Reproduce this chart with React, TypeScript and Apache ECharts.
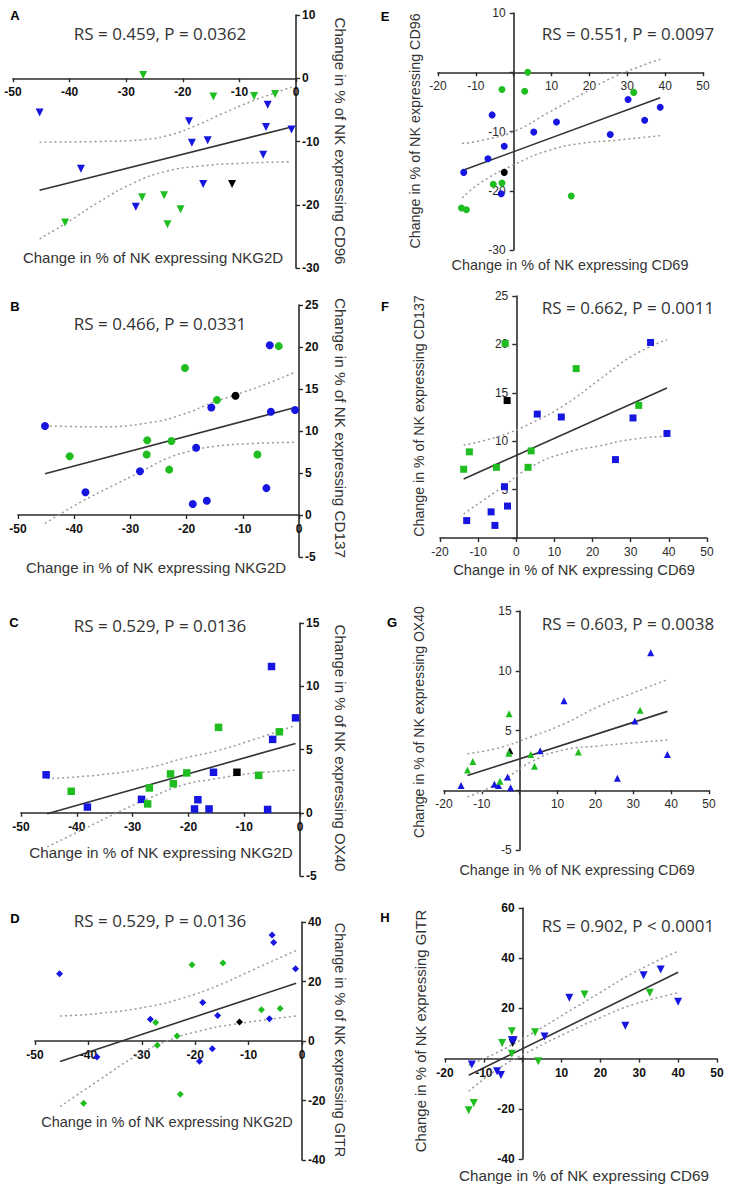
import React, { useEffect, useRef } from "react";
import * as echarts from "echarts";

// ---------- Panel A: NKG2D vs CD96 ----------
const aBlue = [[-45.3, -5.4], [-38.0, -14.3], [-28.3, -20.3], [-18.9, -6.8], [-18.4, -10.2], [-16.4, -16.7], [-15.6, -9.8], [-5.8, -12.1], [-5.3, -7.7], [-5.0, -4.2], [-0.8, -8.1]];
const aGreen = [[-40.8, -22.8], [-27.0, 0.5], [-27.2, -18.8], [-23.3, -18.5], [-22.7, -23.1], [-20.4, -20.7], [-14.6, -2.9], [-7.4, -2.8], [-3.7, -2.5]];
const aBlack = [[-11.3, -16.7]];
const aFit = [[-45.3, -17.7], [-0.8, -7.7]];
const aUpper = [[-45.3, -10.1], [-35, -10.0], [-27, -9.7], [-22, -8.9], [-18, -7.6], [-13, -5.6], [-8, -3.7], [-4, -2.4], [-0.8, -1.4]];
const aLower = [[-45.3, -25.4], [-40.6, -22.9], [-34.7, -19.5], [-28.8, -16.6], [-22.9, -14.7], [-17, -13.9], [-11.1, -13.5], [-0.8, -13.2]];

// ---------- Panel B: NKG2D vs CD137 ----------
const bBlue = [[-45.2, 10.6], [-38.0, 2.7], [-28.3, 5.2], [-18.9, 1.3], [-18.3, 8.0], [-16.4, 1.7], [-15.6, 12.8], [-5.8, 3.2], [-5.2, 20.2], [-5.0, 12.3], [-0.7, 12.5]];
const bGreen = [[-40.8, 7.0], [-27.1, 7.2], [-27.0, 8.9], [-23.1, 5.4], [-22.7, 8.8], [-20.3, 17.5], [-14.6, 13.7], [-7.4, 7.2], [-3.6, 20.1]];
const bBlack = [[-11.3, 14.2]];
const bFit = [[-45.2, 4.9], [-0.7, 12.8]];
const bUpper = [[-45.2, 10.6], [-35.4, 10.5], [-26.5, 11.0], [-20.6, 12.0], [-15.3, 13.4], [-11.7, 14.2], [-5.8, 15.6], [-0.7, 17.0]];
const bLower = [[-45.2, -1.0], [-38.4, 1.7], [-33.7, 3.3], [-27.7, 5.3], [-23.6, 6.7], [-18.8, 7.7], [-14.7, 8.2], [-8.7, 8.5], [-0.7, 8.65]];

// ---------- Panel C: NKG2D vs OX40 ----------
const cBlue = [[-45.5, 3.0], [-38.1, 0.45], [-28.4, 1.06], [-18.3, 1.03], [-18.9, 0.3], [-16.3, 0.3], [-15.5, 3.2], [-5.8, 0.26], [-5.1, 11.56], [-4.9, 5.8], [-0.8, 7.5]];
const cGreen = [[-41.0, 1.7], [-27.0, 1.96], [-27.3, 0.7], [-23.2, 3.07], [-22.7, 2.3], [-20.3, 3.15], [-14.6, 6.75], [-7.4, 2.96], [-3.7, 6.4]];
const cBlack = [[-11.3, 3.2]];
const cFit = [[-45.3, -0.08], [-0.8, 5.48]];
const cUpper = [[-45.3, 2.7], [-35.8, 3.0], [-26.8, 3.6], [-20.9, 4.3], [-14.9, 4.9], [-8.9, 5.7], [-0.8, 6.9]];
const cLower = [[-45.3, -2.7], [-38.8, -1.3], [-32.8, 0], [-26.8, 1.2], [-20.9, 2.2], [-14.9, 2.7], [-8.9, 3.1], [-0.8, 3.36]];

// ---------- Panel D: NKG2D vs GITR ----------
const dBlue = [[-45.4, 22.6], [-38.4, -5.4], [-28.4, 7.3], [-18.6, 12.9], [-19.2, -6.8], [-16.8, -2.6], [-15.8, 8.6], [-6.1, 7.5], [-5.6, 35.6], [-5.3, 33.1], [-1.2, 24.3]];
const dGreen = [[-40.9, -20.9], [-27.4, 6.2], [-27.1, -1.45], [-23.4, 1.7], [-22.8, -17.9], [-20.6, 25.6], [-14.8, 26.2], [-7.6, 10.5], [-4.1, 10.9]];
const dBlack = [[-11.7, 6.4]];
const dFit = [[-45.3, -6.9], [-1.1, 19.4]];
const dUpper = [[-45.3, 8.4], [-37.8, 9.3], [-28.4, 11.7], [-22.2, 14.5], [-15.9, 18.5], [-9.7, 23.5], [-1.1, 30.4]];
const dLower = [[-45.3, -22.0], [-37.8, -12.9], [-31.6, -5.6], [-25.3, 0], [-19.1, 3.4], [-12.8, 5.6], [-1.1, 8.4]];

// ---------- Panel E: CD69 vs CD96 ----------
const eBlue = [[30.2, -4.6], [38.7, -5.9], [-5.7, -7.2], [34.6, -8.1], [11.3, -8.4], [5.3, -10.1], [25.5, -10.5], [-2.5, -12.5], [-6.8, -14.6], [-13.2, -16.9], [-3.3, -20.5]];
const eGreen = [[3.7, 0.0], [-3.1, -2.9], [2.9, -3.2], [31.7, -3.4], [-5.4, -18.9], [-3.1, -18.7], [15.2, -20.9], [-13.8, -22.9], [-12.5, -23.2]];
const eBlack = [[-2.5, -16.9]];
const eFit = [[-13.2, -16.5], [38.7, -4.3]];
const eUpper = [[-13.6, -12.0], [-8.4, -11.5], [0.4, -9.9], [9.2, -6.8], [18, -3.7], [26.8, -0.7], [38.7, 2.2]];
const eLower = [[-13.6, -21.2], [-8.4, -18.5], [0.4, -15.5], [9.2, -13.2], [18, -12.0], [26.8, -11.5], [38.7, -10.7]];

// ---------- Panel F: CD69 vs CD137 ----------
const fBlue = [[35.2, 20.2], [5.5, 12.8], [11.8, 12.5], [30.6, 12.4], [39.5, 10.8], [26.0, 8.1], [-3.1, 5.3], [-2.3, 3.3], [-6.6, 2.7], [-13.0, 1.8], [-5.6, 1.3]];
const fGreen = [[-2.9, 20.1], [15.7, 17.5], [32.1, 13.7], [-12.3, 8.9], [3.9, 9.0], [-13.8, 7.1], [-5.2, 7.3], [3.1, 7.3]];
const fBlack = [[-2.4, 14.2]];
const fFit = [[-13.8, 6.1], [39.5, 15.5]];
const fUpper = [[-13.8, 9.6], [-4.6, 10.5], [4.1, 11.9], [12.9, 13.8], [21.6, 16.3], [30.4, 18.8], [39.5, 20.5]];
const fLower = [[-13.8, 2.5], [-4.6, 5.0], [4.1, 7.4], [12.9, 8.8], [21.6, 9.5], [30.4, 10.2], [39.5, 10.5]];

// ---------- Panel G: CD69 vs OX40 ----------
const gBlue = [[34.6, 11.5], [11.7, 7.5], [30.4, 5.8], [5.4, 3.3], [39.0, 3.0], [-3.2, 1.1], [25.8, 1.0], [-15.5, 0.4], [-6.7, 0.5], [-5.6, 0.4], [-2.4, 0.2]];
const gGreen = [[31.8, 6.7], [-2.8, 6.4], [-2.9, 3.1], [2.9, 3.0], [15.5, 3.2], [-12.4, 2.4], [-13.8, 1.7], [3.9, 2.0], [-5.2, 0.75]];
const gBlack = [[-2.6, 3.3]];
const gFit = [[-13.8, 1.23], [39.0, 6.6]];
const gUpper = [[-13.8, 3.06], [-5.6, 3.54], [3.2, 4.5], [12, 5.6], [20.8, 7.0], [29.6, 8.1], [39.0, 9.25]];
const gLower = [[-13.8, -0.56], [-5.6, 0.6], [3.2, 2.4], [12, 3.4], [20.8, 3.7], [29.6, 3.96], [39.0, 4.2]];

// ---------- Panel H: CD69 vs GITR ----------
const hBlue = [[35.5, 35.5], [31.1, 33.2], [12.0, 24.2], [40.0, 22.6], [26.4, 13.1], [5.6, 8.8], [-2.8, 7.3], [-2.3, 7.3], [-13.1, -2.4], [-6.6, -5.0], [-5.6, -6.5]];
const hGreen = [[32.7, 26.2], [15.9, 25.5], [-2.8, 10.9], [3.2, 10.5], [-5.3, 6.2], [-2.8, 1.9], [4.0, -1.1], [-12.6, -17.7], [-13.9, -20.6]];
const hBlack = [[-2.6, 6.2]];
const hFit = [[-13.9, -6.6], [40.0, 34.4]];
const hUpper = [[-13.9, -2.7], [-6, 2.9], [2.6, 10.2], [11.2, 18.2], [19.8, 26.2], [28.4, 34.1], [40.0, 42.8]];
const hLower = [[-13.9, -13.0], [-6, -3.7], [2.6, 3.6], [11.2, 10.2], [19.8, 16.2], [28.4, 21.5], [40.0, 26.2]];

// ---------- Texts ----------
const letters = ["A", "B", "C", "D", "E", "F", "G", "H"];
const stats = [
  "RS = 0.459, P = 0.0362",
  "RS = 0.466, P = 0.0331",
  "RS = 0.529, P = 0.0136",
  "RS = 0.529, P = 0.0136",
  "RS = 0.551, P = 0.0097",
  "RS = 0.662, P = 0.0011",
  "RS = 0.603, P = 0.0038",
  "RS = 0.902, P < 0.0001",
];
const xNames = [
  "Change in % of NK expressing NKG2D",
  "Change in % of NK expressing NKG2D",
  "Change in % of NK expressing NKG2D",
  "Change in % of NK expressing NKG2D",
  "Change in % of NK expressing CD69",
  "Change in % of NK expressing CD69",
  "Change in % of NK expressing CD69",
  "Change in % of NK expressing CD69",
];
const yNames = [
  "Change in % of NK expressing CD96",
  "Change in % of NK expressing CD137",
  "Change in % of NK expressing OX40",
  "Change in % of NK expressing GITR",
  "Change in % of NK expressing CD96",
  "Change in % of NK expressing CD137",
  "Change in % of NK expressing OX40",
  "Change in % of NK expressing GITR",
];

// axis scales [min, max, interval]
const xScales = [
  [-50, 0, 10], [-50, 0, 10], [-50, 0, 10], [-50, 0, 10],
  [-20, 50, 10], [-20, 50, 10], [-20, 50, 10], [-20, 50, 10],
];
const yScales = [
  [-30, 10, 10], [-5, 25, 5], [-5, 15, 5], [-40, 40, 20],
  [-30, 10, 10], [0, 25, 5], [-5, 15, 5], [-40, 60, 20],
];

const pointSets = [
  [aBlue, aGreen, aBlack, aFit, aUpper, aLower],
  [bBlue, bGreen, bBlack, bFit, bUpper, bLower],
  [cBlue, cGreen, cBlack, cFit, cUpper, cLower],
  [dBlue, dGreen, dBlack, dFit, dUpper, dLower],
  [eBlue, eGreen, eBlack, eFit, eUpper, eLower],
  [fBlue, fGreen, fBlack, fFit, fUpper, fLower],
  [gBlue, gGreen, gBlack, gFit, gUpper, gLower],
  [hBlue, hGreen, hBlack, hFit, hUpper, hLower],
];

// ---------- Layout / style (per panel) ----------
const layout = [
  { grid: [13, 15, 283, 253], right: true, bold: true, hideX0: false, hideY0: false, sym: "triangle", rot: 180, size: 8,
    letter: [15, 15], stat: [160, 33], yName: [340, 141, 15], xName: [153, 257, 15] },
  { grid: [18, 305, 281, 252], right: true, bold: true, hideX0: false, hideY0: false, sym: "circle", rot: 0, size: 8,
    letter: [15, 306], stat: [160, 323], yName: [340, 428, 15.3], xName: [156, 567, 15] },
  { grid: [21, 623, 279, 253], right: true, bold: true, hideX0: false, hideY0: false, sym: "rect", rot: 0, size: 7.5,
    letter: [14, 622], stat: [160, 625], yName: [340, 748, 15], xName: [161, 852, 15.2] },
  { grid: [35, 922, 267, 238], right: true, bold: true, hideX0: false, hideY0: false, sym: "diamond", rot: 0, size: 7,
    letter: [15, 918], stat: [160, 920], yName: [340, 1040, 14.4], xName: [167, 1122, 14.5] },
  { grid: [438, 13, 265, 237], right: false, bold: false, hideX0: true, hideY0: true, sym: "circle", rot: 0, size: 7,
    letter: [385, 16], stat: [628, 33], yName: [415, 131, 14.3], xName: [570, 265, 14.4] },
  { grid: [440, 296, 267, 242], right: false, bold: false, hideX0: false, hideY0: true, sym: "rect", rot: 0, size: 7,
    letter: [385, 306], stat: [628, 307], yName: [419, 416, 14.2], xName: [574, 570, 14.7] },
  { grid: [444, 611, 265, 239], right: false, bold: false, hideX0: true, hideY0: true, sym: "triangle", rot: 0, size: 7,
    letter: [392, 622], stat: [628, 623], yName: [419, 722, 14.1], xName: [577, 870, 14.3] },
  { grid: [445, 908, 272, 251], right: false, bold: true, hideX0: true, hideY0: true, sym: "triangle", rot: 180, size: 8,
    letter: [385, 917], stat: [628, 925], yName: [421, 1031, 14.9], xName: [584, 1175, 15.2] },
];

const BLUE = "#1616e0";
const GREEN = "#20bd20";
const BLACK = "#000000";
const AXIS = "#2b2b2b";

function buildOption() {
  const grids: any[] = [];
  const xAxes: any[] = [];
  const yAxes: any[] = [];
  const series: any[] = [];
  const graphics: any[] = [];

  layout.forEach((p, i) => {
    const [l, t, w, h] = p.grid;
    grids.push({ left: l, top: t, width: w, height: h, containLabel: false });
    const lbl = {
      fontFamily: "Liberation Sans, Arial, sans-serif",
      fontSize: 12,
      fontWeight: p.bold ? "bold" : "normal",
      color: p.bold ? "#111" : "#2a2a2a",
    };
    const [xmin, xmax, xint] = xScales[i];
    const [ymin, ymax, yint] = yScales[i];
    // x axis sits where y = 0; y axis sits at x = 0 (left-hand panels: right edge)
    const xOffset = -((0 - ymin) / (ymax - ymin)) * h;
    const yOffset = p.right ? 0 : -((0 - xmin) / (xmax - xmin)) * w;
    xAxes.push({
      gridIndex: i,
      type: "value",
      position: "bottom",
      offset: xOffset,
      min: xmin,
      max: xmax,
      interval: xint,
      axisLine: { show: true, onZero: false, lineStyle: { color: AXIS, width: 1.6 } },
      axisTick: { show: true, length: 4, lineStyle: { color: AXIS, width: 1.4 } },
      axisLabel: {
        ...lbl,
        margin: 8,
        formatter: (v: number) => (p.hideX0 && v === 0 ? "" : String(v)),
      },
      splitLine: { show: false },
    });
    yAxes.push({
      gridIndex: i,
      type: "value",
      min: ymin,
      max: ymax,
      interval: yint,
      position: p.right ? "right" : "left",
      offset: yOffset,
      axisLine: { show: true, onZero: false, lineStyle: { color: AXIS, width: 1.6 } },
      axisTick: { show: true, length: 4, lineStyle: { color: AXIS, width: 1.4 } },
      axisLabel: {
        ...lbl,
        margin: p.right ? 6 : 8,
        formatter: (v: number) => (p.hideY0 && v === 0 ? "" : String(v)),
      },
      splitLine: { show: false },
    });

    const [blue, green, black, fit, upper, lower] = pointSets[i];
    const band = { color: "#9a9a9a", width: 1.5, type: [2, 3] };
    series.push({
      type: "line", xAxisIndex: i, yAxisIndex: i, data: upper, smooth: true, symbol: "none",
      lineStyle: band, silent: true, z: 1,
    });
    series.push({
      type: "line", xAxisIndex: i, yAxisIndex: i, data: lower, smooth: true, symbol: "none",
      lineStyle: band, silent: true, z: 1,
    });
    series.push({
      type: "line", xAxisIndex: i, yAxisIndex: i, data: fit, symbol: "none",
      lineStyle: { color: "#333333", width: 1.6 }, silent: true, z: 2,
    });
    const mk = (data: number[][], color: string) => ({
      type: "scatter", xAxisIndex: i, yAxisIndex: i, data,
      symbol: p.sym, symbolSize: p.size, symbolRotate: p.rot,
      itemStyle: { color, opacity: 1 }, silent: true, z: 3,
    });
    series.push(mk(black, BLACK));
    series.push(mk(blue, BLUE));
    series.push(mk(green, GREEN));

    const txt = (text: string, x: number, y: number, font: string, rot: number, fill: string) => ({
      type: "text",
      x,
      y,
      rotation: rot,
      silent: true,
      style: {
        text,
        font,
        fill,
        align: "center",
        verticalAlign: "middle",
        textAlign: "center",
        textVerticalAlign: "middle",
      },
    });
    graphics.push(txt(letters[i], p.letter[0], p.letter[1], "bold 13px Liberation Sans, Arial, sans-serif", 0, "#000"));
    graphics.push(txt(stats[i], p.stat[0], p.stat[1], "normal 17px Open Sans, sans-serif", 0, "#333"));
    graphics.push(
      txt(yNames[i], p.yName[0], p.yName[1], `normal ${p.yName[2]}px Liberation Sans, Arial, sans-serif`,
        p.right ? -Math.PI / 2 : Math.PI / 2, "#333")
    );
    graphics.push(
      txt(xNames[i], p.xName[0], p.xName[1], `normal ${p.xName[2]}px Liberation Sans, Arial, sans-serif`, 0, "#333")
    );
  });

  return {
    animation: false,
    backgroundColor: "#ffffff",
    grid: grids,
    xAxis: xAxes,
    yAxis: yAxes,
    series,
    graphic: { elements: graphics },
  };
}

export default function App() {
  const ref = useRef<HTMLDivElement>(null);
  useEffect(() => {
    document.body.style.margin = "0";
    if (!ref.current) return;
    const chart = echarts.init(ref.current, undefined, { renderer: "svg", width: 730, height: 1187 });
    chart.setOption(buildOption() as any);
    return () => {
      chart.dispose();
    };
  }, []);
  return (
    <div
      ref={ref}
      style={{ position: "absolute", left: 0, top: 0, width: 730, height: 1187, background: "#fff" }}
    />
  );
}
